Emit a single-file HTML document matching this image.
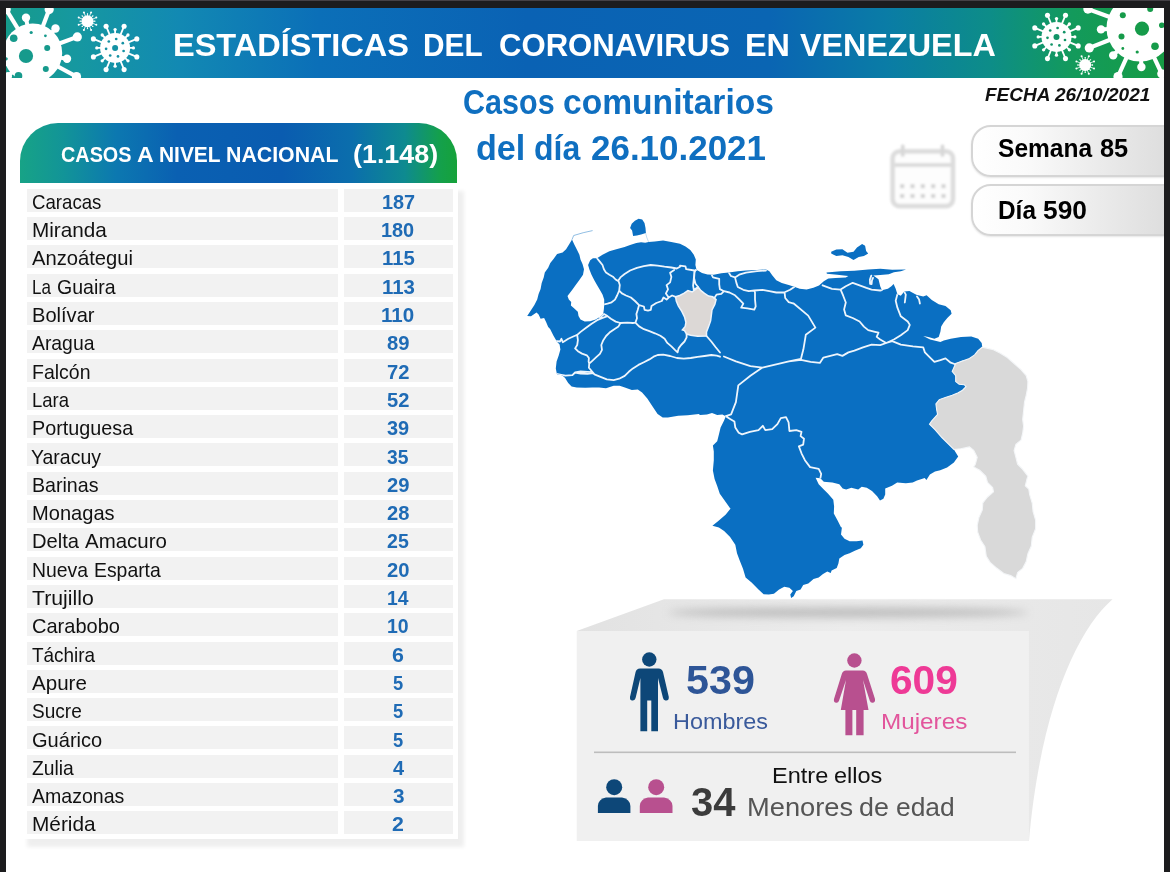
<!DOCTYPE html>
<html lang="es">
<head>
<meta charset="utf-8">
<title>Estadísticas del Coronavirus en Venezuela</title>
<style>
html,body{margin:0;padding:0;}
body{width:1170px;height:872px;overflow:hidden;background:#1c1c1e;font-family:"Liberation Sans", sans-serif;position:relative;}
#page{position:absolute;left:6px;top:8px;width:1158px;height:864px;background:#fff;overflow:hidden;}
#topline{position:absolute;left:0;top:0;width:1170px;height:1px;background:#444146;}
#abs{position:absolute;left:-6px;top:-8px;width:1170px;height:872px;}
#banner{position:absolute;left:6px;top:8px;width:1158px;height:70px;
 background:linear-gradient(90deg,#169b8b 0%,#1698a0 6%,#1289b3 15%,#0b6fb8 27%,#0a62b4 45%,#0a65b3 66%,#0a7ca6 76%,#0d8d88 85%,#139a5c 92%,#169c44 100%);}
svg.layer{position:absolute;left:0;top:0;width:1170px;height:872px;overflow:hidden;}
.tx{position:absolute;left:0;top:0;white-space:pre;}
.tx span{position:absolute;transform-origin:0 50%;white-space:pre;}
#thead{position:absolute;left:20px;top:123px;width:436.5px;height:60px;border-radius:38px 38px 0 0;
 background:linear-gradient(90deg,#17a386 0%,#129498 10%,#0c78b0 22%,#0a60b2 36%,#0a5cb0 60%,#0b6eac 76%,#0e8a90 88%,#14a04c 96%,#16a23a 100%);}
#tbody{position:absolute;left:21px;top:183px;width:437.4px;height:656.1px;background:#fff;box-shadow:6px 8px 4px rgba(0,0,0,.065);}
.row{position:absolute;left:26.5px;width:427px;height:23.0px;font-size:20.20px;line-height:20.20px;color:#111;}
.row .c1{position:absolute;left:0;top:0;width:311.5px;height:100%;background:#f2f2f2;}
.row .c2{position:absolute;left:317px;top:0;width:109.5px;height:100%;background:#f2f2f2;}
.row span{position:absolute;white-space:pre;transform-origin:0 50%;}
.row .vl{color:#1f6bb5;font-weight:700;}
.pill{position:absolute;left:971px;width:215px;height:52px;border:2.6px solid #d5d5d5;border-radius:20px;box-sizing:border-box;
 background:linear-gradient(90deg,#ffffff 0%,#fafafa 25%,#ebebeb 60%,#dadada 100%);box-shadow:0 1px 2px rgba(0,0,0,.10);}
</style>
</head>
<body>
<div id="topline"></div>
<div id="page"><div id="abs">
<div id="banner"></div>
<svg class="layer" viewBox="0 0 1170 872">
<defs>
<clipPath id="mapclip"><path d="M572.0,239.6 L574.3,244.4 L577.1,249.9 L579.4,254.7 L580.5,259.5 L582.6,264.3 L584.0,269.2 L583.0,274.7 L579.2,280.2 L575.7,285.0 L572.3,289.8 L567.5,296.0 L568.8,299.4 L571.2,301.9 L570.9,305.6 L574.3,308.4 L577.8,311.8 L578.5,315.9 L580.5,319.4 L584.7,321.4 L590.2,321.2 L595.7,319.4 L600.5,316.6 L603.2,313.9 L603.9,309.1 L604.2,304.9 L604.2,299.4 L602.5,294.6 L599.8,289.8 L597.0,285.0 L594.3,280.2 L591.5,274.7 L589.5,269.8 L588.1,265.0 L590.2,260.2 L592.9,258.2 L597.0,258.2 L602.5,254.7 L609.4,251.3 L616.3,249.2 L624.6,246.9 L630.1,245.1 L636.3,243.0 L641.1,242.3 L645.2,242.7 L648.6,241.9 L654.8,241.4 L663.1,240.5 L671.3,241.9 L680.0,243.7 L685.5,246.5 L690.3,249.9 L693.8,254.7 L695.8,259.5 L695.4,265.0 L696.5,269.8 L702.0,273.0 L707.5,274.4 L713.7,274.7 L721.3,273.3 L728.8,272.6 L737.8,271.2 L746.0,270.5 L757.0,270.1 L766.0,269.4 L769.4,271.2 L772.2,275.3 L776.3,280.2 L781.8,282.9 L788.7,285.0 L794.2,286.8 L799.7,288.7 L806.6,289.5 L813.4,287.7 L819.0,285.4 L823.8,281.3 L827.9,278.8 L828.6,278.5 L835.5,278.0 L845.8,277.6 L848.4,275.9 L837.2,274.7 L826.9,273.7 L826.5,272.5 L840.6,271.2 L854.4,270.7 L868.2,269.5 L880.2,268.8 L892.2,269.7 L906.0,269.5 L900.8,271.2 L893.9,272.3 L888.8,274.3 L880.2,275.0 L873.3,275.4 L878.5,279.3 L880.2,286.2 L881.9,290.2 L887.9,288.8 L891.4,286.2 L893.6,284.0 L895.7,288.8 L897.4,294.3 L900.8,295.7 L904.3,291.4 L909.4,290.9 L916.3,294.8 L923.2,296.5 L926.6,295.3 L931.8,300.0 L938.7,304.3 L945.5,306.0 L950.7,310.3 L951.6,313.7 L947.3,318.0 L943.8,322.3 L941.2,326.6 L940.4,331.8 L938.7,336.9 L934.4,338.7 L928.3,336.9 L923.2,336.1 L930.1,339.5 L940.4,342.1 L943.8,340.4 L950.7,338.7 L961.0,336.9 L971.3,336.6 L978.2,338.7 L981.7,343.0 L982.3,347.2 L978.0,350.6 L974.6,354.9 L969.4,358.4 L962.5,361.0 L955.7,363.5 L952.2,371.3 L955.7,375.6 L955.7,381.6 L959.1,384.2 L964.3,384.7 L966.0,386.7 L962.5,390.2 L958.2,392.8 L952.2,395.3 L945.3,397.4 L939.3,399.6 L935.9,403.9 L936.7,410.0 L937.6,414.3 L931.6,421.1 L929.5,424.2 L935.0,429.7 L941.9,437.5 L948.8,444.4 L953.9,449.5 L958.2,456.4 L953.9,462.4 L947.1,467.6 L940.2,470.2 L935.0,471.4 L929.9,474.5 L926.4,480.0 L924.7,478.1 L917.0,480.6 L912.7,482.4 L905.8,483.2 L897.2,482.4 L892.0,485.8 L885.2,488.4 L885.2,494.4 L883.4,498.7 L880.0,500.4 L877.1,496.3 L872.0,491.1 L866.8,487.7 L861.7,486.8 L858.2,489.4 L851.3,487.7 L846.2,489.4 L842.7,488.6 L839.3,484.3 L832.4,482.5 L823.8,481.7 L820.4,478.2 L815.6,477.7 L818.7,484.3 L823.8,489.4 L828.1,493.7 L833.3,499.7 L834.1,506.6 L833.8,513.5 L837.6,520.4 L841.0,527.3 L841.9,527.5 L841.0,534.4 L844.5,538.7 L849.6,541.3 L856.5,541.3 L862.5,540.4 L863.4,544.7 L860.8,548.2 L854.8,550.7 L849.6,553.3 L844.5,555.0 L839.3,558.5 L838.4,563.6 L836.7,567.9 L831.6,570.5 L830.7,573.1 L827.3,571.4 L823.0,573.9 L818.7,577.4 L813.5,579.1 L808.3,583.4 L803.2,585.1 L800.6,589.4 L796.3,591.1 L793.7,596.3 L791.1,598.0 L790.3,594.6 L792.9,591.1 L789.4,587.7 L784.3,586.8 L779.1,589.4 L773.9,593.7 L768.8,594.6 L763.6,594.2 L758.5,589.4 L751.6,582.5 L745.6,577.4 L743.0,568.8 L739.6,560.2 L737.0,553.3 L735.3,544.7 L730.1,537.0 L724.1,531.0 L718.9,527.5 L712.4,525.8 L718.9,520.6 L725.8,514.6 L730.6,508.6 L730.1,508.3 L724.1,499.7 L719.8,493.7 L717.2,486.0 L714.6,479.1 L712.9,470.5 L713.8,460.2 L713.8,451.6 L712.9,445.6 L717.2,441.3 L718.9,434.4 L720.6,427.5 L724.1,420.6 L725.8,416.3 L722.4,414.6 L717.2,415.1 L712.0,413.1 L706.9,414.4 L700.0,415.1 L698.8,414.0 L687.7,415.2 L678.2,415.8 L667.9,417.5 L662.7,417.5 L657.6,414.0 L652.4,406.3 L647.3,398.6 L642.1,392.5 L637.8,389.4 L631.8,390.0 L624.9,387.4 L619.7,385.7 L613.7,385.7 L606.0,388.2 L599.1,387.4 L592.2,387.4 L585.3,387.7 L576.7,387.4 L571.6,386.5 L568.2,383.1 L565.1,377.9 L562.1,375.3 L557.0,374.5 L555.8,368.5 L556.6,361.6 L558.7,355.6 L560.4,349.6 L559.6,344.4 L557.0,341.8 L553.5,335.8 L550.1,328.9 L548.2,326.9 L546.1,322.1 L544.1,318.0 L540.6,318.7 L538.6,314.6 L536.5,312.5 L531.0,316.2 L527.2,315.9 L534.4,304.9 L537.2,299.4 L538.6,293.9 L540.6,289.1 L541.7,282.9 L543.7,277.4 L544.8,272.6 L548.2,267.8 L550.3,263.0 L553.7,258.8 L557.1,254.0 L562.6,252.6 L566.1,249.2 L569.5,243.7 L571.6,240.3Z"/></clipPath>
<clipPath id="bclip"><rect x="6" y="8" width="1158" height="70"/></clipPath>
<filter id="blur2" x="-20%" y="-20%" width="140%" height="140%"><feGaussianBlur stdDeviation="1.3"/></filter>
<filter id="blur5" x="-20%" y="-100%" width="140%" height="300%"><feGaussianBlur stdDeviation="4"/></filter>
<linearGradient id="topg" x1="0" x2="1" y1="0" y2="0"><stop offset="0" stop-color="#e2e2e2"/><stop offset=".5" stop-color="#ececec"/><stop offset="1" stop-color="#e6e6e6"/></linearGradient>
</defs>
<g clip-path="url(#bclip)">
<g fill="#fff" stroke="#fff">
<line x1="18.4" y1="29.5" x2="6.2" y2="9.6" stroke-width="4.2"/>
<circle cx="6.2" cy="9.6" r="4.6" stroke="none"/>
<line x1="27.5" y1="26.0" x2="26.0" y2="17.8" stroke-width="4"/>
<circle cx="26.0" cy="17.8" r="4.2" stroke="none"/>
<line x1="42.5" y1="27.3" x2="49.2" y2="9.6" stroke-width="4.2"/>
<circle cx="49.2" cy="9.6" r="4.6" stroke="none"/>
<line x1="51.5" y1="32.9" x2="55.5" y2="28.5" stroke-width="4"/>
<circle cx="55.5" cy="28.5" r="4.2" stroke="none"/>
<line x1="58.6" y1="43.7" x2="77.3" y2="36.9" stroke-width="4.2"/>
<circle cx="77.3" cy="36.9" r="4.6" stroke="none"/>
<line x1="59.8" y1="57.6" x2="67.0" y2="58.8" stroke-width="4"/>
<circle cx="67.0" cy="58.8" r="4.2" stroke="none"/>
<line x1="56.9" y1="66.0" x2="76.5" y2="76.6" stroke-width="4.2"/>
<circle cx="76.5" cy="76.6" r="4.6" stroke="none"/>
<line x1="46.5" y1="76.8" x2="50.2" y2="83.3" stroke-width="4"/>
<circle cx="50.2" cy="83.3" r="4.2" stroke="none"/>
<line x1="12.6" y1="71.8" x2="7.8" y2="76.2" stroke-width="4"/>
<circle cx="7.8" cy="76.2" r="4.2" stroke="none"/>
<line x1="6.9" y1="62.4" x2="1.7" y2="64.3" stroke-width="4"/>
<circle cx="1.7" cy="64.3" r="4.2" stroke="none"/>
<circle cx="32.7" cy="53" r="29.5" stroke="none"/>
</g>
<g fill="#169a8c">
<circle cx="26" cy="56" r="7.1"/>
<circle cx="13.7" cy="38.3" r="3.8"/>
<circle cx="47.2" cy="48.1" r="3.0"/>
<circle cx="45.8" cy="69" r="3.0"/>
<circle cx="31.2" cy="32.5" r="1.6"/>
<circle cx="45.4" cy="35.8" r="1.4"/>
<circle cx="18.5" cy="75.9" r="3.8"/>
<circle cx="6.2" cy="58.8" r="1.6"/>
</g>
<g fill="#fff" stroke="#fff">
<line x1="1108.5" y1="29.1" x2="1101.0" y2="29.4" stroke-width="4"/>
<circle cx="1101.0" cy="29.4" r="4.2" stroke="none"/>
<line x1="1110.7" y1="39.5" x2="1089.3" y2="47.9" stroke-width="4.2"/>
<circle cx="1089.3" cy="47.9" r="4.6" stroke="none"/>
<line x1="1118.0" y1="50.5" x2="1113.2" y2="55.4" stroke-width="4"/>
<circle cx="1113.2" cy="55.4" r="4.2" stroke="none"/>
<line x1="1127.0" y1="56.7" x2="1118.0" y2="76.5" stroke-width="4.2"/>
<circle cx="1118.0" cy="76.5" r="4.6" stroke="none"/>
<line x1="1141.1" y1="59.5" x2="1141.4" y2="67.0" stroke-width="4"/>
<circle cx="1141.4" cy="67.0" r="4.2" stroke="none"/>
<line x1="1153.6" y1="56.4" x2="1161.8" y2="73.8" stroke-width="4.2"/>
<circle cx="1161.8" cy="73.8" r="4.6" stroke="none"/>
<line x1="1110.4" y1="17.2" x2="1087.9" y2="9.1" stroke-width="4.2"/>
<circle cx="1087.9" cy="9.1" r="4.6" stroke="none"/>
<line x1="1164.1" y1="48.2" x2="1169.1" y2="52.4" stroke-width="4"/>
<circle cx="1169.1" cy="52.4" r="4.2" stroke="none"/>
<circle cx="1140" cy="28" r="33.5" stroke="none"/>
</g>
<g fill="#169b4a">
<circle cx="1142" cy="28.7" r="7.1"/>
<circle cx="1122.8" cy="15.3" r="3.0"/>
<circle cx="1121.5" cy="36.6" r="3.0"/>
<circle cx="1155" cy="46.2" r="3.8"/>
<circle cx="1137.2" cy="52" r="1.6"/>
<circle cx="1122.8" cy="48.5" r="1.4"/>
<circle cx="1161.8" cy="25.3" r="2.8"/>
<circle cx="1150.2" cy="8.9" r="3.0"/>
</g>
<g fill="#fff" stroke="#fff" stroke-linecap="round">
<line x1="115.1" y1="47.9" x2="136.8" y2="56.9" stroke-width="1.80"/>
<circle cx="136.8" cy="56.9" r="2.55" stroke="none"/>
<line x1="115.1" y1="47.9" x2="133.4" y2="47.9" stroke-width="1.80"/>
<circle cx="133.4" cy="47.9" r="1.65" stroke="none"/>
<line x1="115.1" y1="47.9" x2="124.1" y2="69.6" stroke-width="1.80"/>
<circle cx="124.1" cy="69.6" r="2.55" stroke="none"/>
<line x1="115.1" y1="47.9" x2="128.0" y2="60.8" stroke-width="1.80"/>
<circle cx="128.0" cy="60.8" r="1.65" stroke="none"/>
<line x1="115.1" y1="47.9" x2="106.1" y2="69.6" stroke-width="1.80"/>
<circle cx="106.1" cy="69.6" r="2.55" stroke="none"/>
<line x1="115.1" y1="47.9" x2="115.1" y2="66.2" stroke-width="1.80"/>
<circle cx="115.1" cy="66.2" r="1.65" stroke="none"/>
<line x1="115.1" y1="47.9" x2="93.4" y2="56.9" stroke-width="1.80"/>
<circle cx="93.4" cy="56.9" r="2.55" stroke="none"/>
<line x1="115.1" y1="47.9" x2="102.2" y2="60.8" stroke-width="1.80"/>
<circle cx="102.2" cy="60.8" r="1.65" stroke="none"/>
<line x1="115.1" y1="47.9" x2="93.4" y2="38.9" stroke-width="1.80"/>
<circle cx="93.4" cy="38.9" r="2.55" stroke="none"/>
<line x1="115.1" y1="47.9" x2="96.8" y2="47.9" stroke-width="1.80"/>
<circle cx="96.8" cy="47.9" r="1.65" stroke="none"/>
<line x1="115.1" y1="47.9" x2="106.1" y2="26.2" stroke-width="1.80"/>
<circle cx="106.1" cy="26.2" r="2.55" stroke="none"/>
<line x1="115.1" y1="47.9" x2="102.2" y2="35.0" stroke-width="1.80"/>
<circle cx="102.2" cy="35.0" r="1.65" stroke="none"/>
<line x1="115.1" y1="47.9" x2="124.1" y2="26.2" stroke-width="1.80"/>
<circle cx="124.1" cy="26.2" r="2.55" stroke="none"/>
<line x1="115.1" y1="47.9" x2="115.1" y2="29.6" stroke-width="1.80"/>
<circle cx="115.1" cy="29.6" r="1.65" stroke="none"/>
<line x1="115.1" y1="47.9" x2="136.8" y2="38.9" stroke-width="1.80"/>
<circle cx="136.8" cy="38.9" r="2.55" stroke="none"/>
<line x1="115.1" y1="47.9" x2="128.0" y2="35.0" stroke-width="1.80"/>
<circle cx="128.0" cy="35.0" r="1.65" stroke="none"/>
<circle cx="115.1" cy="47.9" r="15" stroke="none"/>
</g>
<g fill="#1491a3">
<circle cx="115.1" cy="47.9" r="3.00"/>
<circle cx="123.6" cy="51.0" r="1.35"/>
<circle cx="118.0" cy="56.4" r="1.35"/>
<circle cx="110.2" cy="55.5" r="1.35"/>
<circle cx="106.1" cy="48.8" r="1.35"/>
<circle cx="108.8" cy="41.5" r="1.35"/>
<circle cx="116.2" cy="39.0" r="1.35"/>
<circle cx="122.8" cy="43.2" r="1.35"/>
</g>
<g fill="#fff" stroke="#fff" stroke-linecap="round">
<line x1="87.5" y1="21.2" x2="96.3" y2="24.8" stroke-width="0.80"/>
<circle cx="96.3" cy="24.8" r="1.02" stroke="none"/>
<line x1="87.5" y1="21.2" x2="94.8" y2="21.2" stroke-width="0.80"/>
<circle cx="94.8" cy="21.2" r="0.66" stroke="none"/>
<line x1="87.5" y1="21.2" x2="91.1" y2="30.0" stroke-width="0.80"/>
<circle cx="91.1" cy="30.0" r="1.02" stroke="none"/>
<line x1="87.5" y1="21.2" x2="92.7" y2="26.4" stroke-width="0.80"/>
<circle cx="92.7" cy="26.4" r="0.66" stroke="none"/>
<line x1="87.5" y1="21.2" x2="83.9" y2="30.0" stroke-width="0.80"/>
<circle cx="83.9" cy="30.0" r="1.02" stroke="none"/>
<line x1="87.5" y1="21.2" x2="87.5" y2="28.5" stroke-width="0.80"/>
<circle cx="87.5" cy="28.5" r="0.66" stroke="none"/>
<line x1="87.5" y1="21.2" x2="78.7" y2="24.8" stroke-width="0.80"/>
<circle cx="78.7" cy="24.8" r="1.02" stroke="none"/>
<line x1="87.5" y1="21.2" x2="82.3" y2="26.4" stroke-width="0.80"/>
<circle cx="82.3" cy="26.4" r="0.66" stroke="none"/>
<line x1="87.5" y1="21.2" x2="78.7" y2="17.6" stroke-width="0.80"/>
<circle cx="78.7" cy="17.6" r="1.02" stroke="none"/>
<line x1="87.5" y1="21.2" x2="80.2" y2="21.2" stroke-width="0.80"/>
<circle cx="80.2" cy="21.2" r="0.66" stroke="none"/>
<line x1="87.5" y1="21.2" x2="83.9" y2="12.4" stroke-width="0.80"/>
<circle cx="83.9" cy="12.4" r="1.02" stroke="none"/>
<line x1="87.5" y1="21.2" x2="82.3" y2="16.0" stroke-width="0.80"/>
<circle cx="82.3" cy="16.0" r="0.66" stroke="none"/>
<line x1="87.5" y1="21.2" x2="91.1" y2="12.4" stroke-width="0.80"/>
<circle cx="91.1" cy="12.4" r="1.02" stroke="none"/>
<line x1="87.5" y1="21.2" x2="87.5" y2="13.9" stroke-width="0.80"/>
<circle cx="87.5" cy="13.9" r="0.66" stroke="none"/>
<line x1="87.5" y1="21.2" x2="96.3" y2="17.6" stroke-width="0.80"/>
<circle cx="96.3" cy="17.6" r="1.02" stroke="none"/>
<line x1="87.5" y1="21.2" x2="92.7" y2="16.0" stroke-width="0.80"/>
<circle cx="92.7" cy="16.0" r="0.66" stroke="none"/>
<circle cx="87.5" cy="21.2" r="6" stroke="none"/>
</g>
<g fill="#fff" stroke="#fff" stroke-linecap="round">
<line x1="1056.5" y1="36.9" x2="1078.2" y2="45.9" stroke-width="1.80"/>
<circle cx="1078.2" cy="45.9" r="2.55" stroke="none"/>
<line x1="1056.5" y1="36.9" x2="1074.8" y2="36.9" stroke-width="1.80"/>
<circle cx="1074.8" cy="36.9" r="1.65" stroke="none"/>
<line x1="1056.5" y1="36.9" x2="1065.5" y2="58.6" stroke-width="1.80"/>
<circle cx="1065.5" cy="58.6" r="2.55" stroke="none"/>
<line x1="1056.5" y1="36.9" x2="1069.4" y2="49.8" stroke-width="1.80"/>
<circle cx="1069.4" cy="49.8" r="1.65" stroke="none"/>
<line x1="1056.5" y1="36.9" x2="1047.5" y2="58.6" stroke-width="1.80"/>
<circle cx="1047.5" cy="58.6" r="2.55" stroke="none"/>
<line x1="1056.5" y1="36.9" x2="1056.5" y2="55.2" stroke-width="1.80"/>
<circle cx="1056.5" cy="55.2" r="1.65" stroke="none"/>
<line x1="1056.5" y1="36.9" x2="1034.8" y2="45.9" stroke-width="1.80"/>
<circle cx="1034.8" cy="45.9" r="2.55" stroke="none"/>
<line x1="1056.5" y1="36.9" x2="1043.6" y2="49.8" stroke-width="1.80"/>
<circle cx="1043.6" cy="49.8" r="1.65" stroke="none"/>
<line x1="1056.5" y1="36.9" x2="1034.8" y2="27.9" stroke-width="1.80"/>
<circle cx="1034.8" cy="27.9" r="2.55" stroke="none"/>
<line x1="1056.5" y1="36.9" x2="1038.2" y2="36.9" stroke-width="1.80"/>
<circle cx="1038.2" cy="36.9" r="1.65" stroke="none"/>
<line x1="1056.5" y1="36.9" x2="1047.5" y2="15.2" stroke-width="1.80"/>
<circle cx="1047.5" cy="15.2" r="2.55" stroke="none"/>
<line x1="1056.5" y1="36.9" x2="1043.6" y2="24.0" stroke-width="1.80"/>
<circle cx="1043.6" cy="24.0" r="1.65" stroke="none"/>
<line x1="1056.5" y1="36.9" x2="1065.5" y2="15.2" stroke-width="1.80"/>
<circle cx="1065.5" cy="15.2" r="2.55" stroke="none"/>
<line x1="1056.5" y1="36.9" x2="1056.5" y2="18.6" stroke-width="1.80"/>
<circle cx="1056.5" cy="18.6" r="1.65" stroke="none"/>
<line x1="1056.5" y1="36.9" x2="1078.2" y2="27.9" stroke-width="1.80"/>
<circle cx="1078.2" cy="27.9" r="2.55" stroke="none"/>
<line x1="1056.5" y1="36.9" x2="1069.4" y2="24.0" stroke-width="1.80"/>
<circle cx="1069.4" cy="24.0" r="1.65" stroke="none"/>
<circle cx="1056.5" cy="36.9" r="15" stroke="none"/>
</g>
<g fill="#129467">
<circle cx="1056.5" cy="36.9" r="3.00"/>
<circle cx="1065.0" cy="40.0" r="1.35"/>
<circle cx="1059.4" cy="45.4" r="1.35"/>
<circle cx="1051.6" cy="44.5" r="1.35"/>
<circle cx="1047.5" cy="37.8" r="1.35"/>
<circle cx="1050.2" cy="30.5" r="1.35"/>
<circle cx="1057.6" cy="28.0" r="1.35"/>
<circle cx="1064.2" cy="32.2" r="1.35"/>
</g>
<g fill="#fff" stroke="#fff" stroke-linecap="round">
<line x1="1085.2" y1="65" x2="1094.0" y2="68.6" stroke-width="0.80"/>
<circle cx="1094.0" cy="68.6" r="1.02" stroke="none"/>
<line x1="1085.2" y1="65" x2="1092.5" y2="65.0" stroke-width="0.80"/>
<circle cx="1092.5" cy="65.0" r="0.66" stroke="none"/>
<line x1="1085.2" y1="65" x2="1088.8" y2="73.8" stroke-width="0.80"/>
<circle cx="1088.8" cy="73.8" r="1.02" stroke="none"/>
<line x1="1085.2" y1="65" x2="1090.4" y2="70.2" stroke-width="0.80"/>
<circle cx="1090.4" cy="70.2" r="0.66" stroke="none"/>
<line x1="1085.2" y1="65" x2="1081.6" y2="73.8" stroke-width="0.80"/>
<circle cx="1081.6" cy="73.8" r="1.02" stroke="none"/>
<line x1="1085.2" y1="65" x2="1085.2" y2="72.3" stroke-width="0.80"/>
<circle cx="1085.2" cy="72.3" r="0.66" stroke="none"/>
<line x1="1085.2" y1="65" x2="1076.4" y2="68.6" stroke-width="0.80"/>
<circle cx="1076.4" cy="68.6" r="1.02" stroke="none"/>
<line x1="1085.2" y1="65" x2="1080.0" y2="70.2" stroke-width="0.80"/>
<circle cx="1080.0" cy="70.2" r="0.66" stroke="none"/>
<line x1="1085.2" y1="65" x2="1076.4" y2="61.4" stroke-width="0.80"/>
<circle cx="1076.4" cy="61.4" r="1.02" stroke="none"/>
<line x1="1085.2" y1="65" x2="1077.9" y2="65.0" stroke-width="0.80"/>
<circle cx="1077.9" cy="65.0" r="0.66" stroke="none"/>
<line x1="1085.2" y1="65" x2="1081.6" y2="56.2" stroke-width="0.80"/>
<circle cx="1081.6" cy="56.2" r="1.02" stroke="none"/>
<line x1="1085.2" y1="65" x2="1080.0" y2="59.8" stroke-width="0.80"/>
<circle cx="1080.0" cy="59.8" r="0.66" stroke="none"/>
<line x1="1085.2" y1="65" x2="1088.8" y2="56.2" stroke-width="0.80"/>
<circle cx="1088.8" cy="56.2" r="1.02" stroke="none"/>
<line x1="1085.2" y1="65" x2="1085.2" y2="57.7" stroke-width="0.80"/>
<circle cx="1085.2" cy="57.7" r="0.66" stroke="none"/>
<line x1="1085.2" y1="65" x2="1094.0" y2="61.4" stroke-width="0.80"/>
<circle cx="1094.0" cy="61.4" r="1.02" stroke="none"/>
<line x1="1085.2" y1="65" x2="1090.4" y2="59.8" stroke-width="0.80"/>
<circle cx="1090.4" cy="59.8" r="0.66" stroke="none"/>
<circle cx="1085.2" cy="65" r="6" stroke="none"/>
</g>
</g>
<!-- bottom 3D panel -->
<path d="M664,599.3 L1112.5,599.3 C1075,632 1040,715 1029,841 L1028.3,841 L1028.3,631 L576.7,631 Z" fill="url(#topg)"/>
<ellipse cx="848" cy="612.5" rx="180" ry="5.2" fill="#a8a8a8" opacity=".68" filter="url(#blur5)"/>
<rect x="576.7" y="631" width="451.6" height="210" fill="#f0f0f0"/>
<rect x="594" y="751.5" width="422" height="1.6" fill="#bdbdbd"/>
<!-- map -->

<path d="M982.3,347.2 L986.6,348.1 L993.5,349.8 L1000.4,353.2 L1007.3,357.5 L1014.1,363.5 L1021.0,369.6 L1026.2,375.6 L1027.9,381.6 L1027.5,388.5 L1026.2,395.3 L1024.5,402.2 L1023.6,410.8 L1022.7,419.4 L1023.6,426.3 L1022.7,433.2 L1021.0,440.1 L1015.9,444.4 L1014.1,450.4 L1015.9,457.3 L1017.6,464.1 L1022.7,469.3 L1027.9,476.2 L1027.0,478.9 L1025.3,485.8 L1028.8,489.2 L1029.6,494.4 L1032.2,503.0 L1033.1,511.6 L1035.6,520.2 L1035.6,528.8 L1032.2,537.4 L1031.3,546.0 L1027.9,553.7 L1026.2,561.5 L1022.7,568.3 L1017.6,572.6 L1015.9,578.7 L1010.7,575.6 L1003.8,573.5 L996.9,568.3 L990.1,562.3 L986.3,556.3 L984.9,546.8 L980.6,540.0 L977.7,532.2 L977.2,525.3 L978.9,517.6 L982.3,509.9 L982.8,503.0 L987.5,497.0 L993.5,491.8 L992.6,487.5 L987.5,482.4 L985.8,476.3 L979.7,470.3 L973.7,466.9 L975.4,464.1 L977.2,457.3 L973.7,450.4 L969.4,446.9 L960.8,448.7 L953.9,449.5 L948.8,444.4 L941.9,437.5 L935.0,429.7 L929.5,424.2 L931.6,421.1 L937.6,414.3 L936.7,410.0 L935.9,403.9 L939.3,399.6 L945.3,397.4 L952.2,395.3 L958.2,392.8 L962.5,390.2 L966.0,386.7 L964.3,384.7 L959.1,384.2 L955.7,381.6 L955.7,375.6 L952.2,371.3 L955.7,363.5 L962.5,361.0 L969.4,358.4 L974.6,354.9 L978.0,350.6Z" fill="#d9d9d9"/>
<path d="M572.0,239.6 L574.3,244.4 L577.1,249.9 L579.4,254.7 L580.5,259.5 L582.6,264.3 L584.0,269.2 L583.0,274.7 L579.2,280.2 L575.7,285.0 L572.3,289.8 L567.5,296.0 L568.8,299.4 L571.2,301.9 L570.9,305.6 L574.3,308.4 L577.8,311.8 L578.5,315.9 L580.5,319.4 L584.7,321.4 L590.2,321.2 L595.7,319.4 L600.5,316.6 L603.2,313.9 L603.9,309.1 L604.2,304.9 L604.2,299.4 L602.5,294.6 L599.8,289.8 L597.0,285.0 L594.3,280.2 L591.5,274.7 L589.5,269.8 L588.1,265.0 L590.2,260.2 L592.9,258.2 L597.0,258.2 L602.5,254.7 L609.4,251.3 L616.3,249.2 L624.6,246.9 L630.1,245.1 L636.3,243.0 L641.1,242.3 L645.2,242.7 L648.6,241.9 L654.8,241.4 L663.1,240.5 L671.3,241.9 L680.0,243.7 L685.5,246.5 L690.3,249.9 L693.8,254.7 L695.8,259.5 L695.4,265.0 L696.5,269.8 L702.0,273.0 L707.5,274.4 L713.7,274.7 L721.3,273.3 L728.8,272.6 L737.8,271.2 L746.0,270.5 L757.0,270.1 L766.0,269.4 L769.4,271.2 L772.2,275.3 L776.3,280.2 L781.8,282.9 L788.7,285.0 L794.2,286.8 L799.7,288.7 L806.6,289.5 L813.4,287.7 L819.0,285.4 L823.8,281.3 L827.9,278.8 L828.6,278.5 L835.5,278.0 L845.8,277.6 L848.4,275.9 L837.2,274.7 L826.9,273.7 L826.5,272.5 L840.6,271.2 L854.4,270.7 L868.2,269.5 L880.2,268.8 L892.2,269.7 L906.0,269.5 L900.8,271.2 L893.9,272.3 L888.8,274.3 L880.2,275.0 L873.3,275.4 L878.5,279.3 L880.2,286.2 L881.9,290.2 L887.9,288.8 L891.4,286.2 L893.6,284.0 L895.7,288.8 L897.4,294.3 L900.8,295.7 L904.3,291.4 L909.4,290.9 L916.3,294.8 L923.2,296.5 L926.6,295.3 L931.8,300.0 L938.7,304.3 L945.5,306.0 L950.7,310.3 L951.6,313.7 L947.3,318.0 L943.8,322.3 L941.2,326.6 L940.4,331.8 L938.7,336.9 L934.4,338.7 L928.3,336.9 L923.2,336.1 L930.1,339.5 L940.4,342.1 L943.8,340.4 L950.7,338.7 L961.0,336.9 L971.3,336.6 L978.2,338.7 L981.7,343.0 L982.3,347.2 L978.0,350.6 L974.6,354.9 L969.4,358.4 L962.5,361.0 L955.7,363.5 L952.2,371.3 L955.7,375.6 L955.7,381.6 L959.1,384.2 L964.3,384.7 L966.0,386.7 L962.5,390.2 L958.2,392.8 L952.2,395.3 L945.3,397.4 L939.3,399.6 L935.9,403.9 L936.7,410.0 L937.6,414.3 L931.6,421.1 L929.5,424.2 L935.0,429.7 L941.9,437.5 L948.8,444.4 L953.9,449.5 L958.2,456.4 L953.9,462.4 L947.1,467.6 L940.2,470.2 L935.0,471.4 L929.9,474.5 L926.4,480.0 L924.7,478.1 L917.0,480.6 L912.7,482.4 L905.8,483.2 L897.2,482.4 L892.0,485.8 L885.2,488.4 L885.2,494.4 L883.4,498.7 L880.0,500.4 L877.1,496.3 L872.0,491.1 L866.8,487.7 L861.7,486.8 L858.2,489.4 L851.3,487.7 L846.2,489.4 L842.7,488.6 L839.3,484.3 L832.4,482.5 L823.8,481.7 L820.4,478.2 L815.6,477.7 L818.7,484.3 L823.8,489.4 L828.1,493.7 L833.3,499.7 L834.1,506.6 L833.8,513.5 L837.6,520.4 L841.0,527.3 L841.9,527.5 L841.0,534.4 L844.5,538.7 L849.6,541.3 L856.5,541.3 L862.5,540.4 L863.4,544.7 L860.8,548.2 L854.8,550.7 L849.6,553.3 L844.5,555.0 L839.3,558.5 L838.4,563.6 L836.7,567.9 L831.6,570.5 L830.7,573.1 L827.3,571.4 L823.0,573.9 L818.7,577.4 L813.5,579.1 L808.3,583.4 L803.2,585.1 L800.6,589.4 L796.3,591.1 L793.7,596.3 L791.1,598.0 L790.3,594.6 L792.9,591.1 L789.4,587.7 L784.3,586.8 L779.1,589.4 L773.9,593.7 L768.8,594.6 L763.6,594.2 L758.5,589.4 L751.6,582.5 L745.6,577.4 L743.0,568.8 L739.6,560.2 L737.0,553.3 L735.3,544.7 L730.1,537.0 L724.1,531.0 L718.9,527.5 L712.4,525.8 L718.9,520.6 L725.8,514.6 L730.6,508.6 L730.1,508.3 L724.1,499.7 L719.8,493.7 L717.2,486.0 L714.6,479.1 L712.9,470.5 L713.8,460.2 L713.8,451.6 L712.9,445.6 L717.2,441.3 L718.9,434.4 L720.6,427.5 L724.1,420.6 L725.8,416.3 L722.4,414.6 L717.2,415.1 L712.0,413.1 L706.9,414.4 L700.0,415.1 L698.8,414.0 L687.7,415.2 L678.2,415.8 L667.9,417.5 L662.7,417.5 L657.6,414.0 L652.4,406.3 L647.3,398.6 L642.1,392.5 L637.8,389.4 L631.8,390.0 L624.9,387.4 L619.7,385.7 L613.7,385.7 L606.0,388.2 L599.1,387.4 L592.2,387.4 L585.3,387.7 L576.7,387.4 L571.6,386.5 L568.2,383.1 L565.1,377.9 L562.1,375.3 L557.0,374.5 L555.8,368.5 L556.6,361.6 L558.7,355.6 L560.4,349.6 L559.6,344.4 L557.0,341.8 L553.5,335.8 L550.1,328.9 L548.2,326.9 L546.1,322.1 L544.1,318.0 L540.6,318.7 L538.6,314.6 L536.5,312.5 L531.0,316.2 L527.2,315.9 L534.4,304.9 L537.2,299.4 L538.6,293.9 L540.6,289.1 L541.7,282.9 L543.7,277.4 L544.8,272.6 L548.2,267.8 L550.3,263.0 L553.7,258.8 L557.1,254.0 L562.6,252.6 L566.1,249.2 L569.5,243.7 L571.6,240.3Z" fill="#0a6fc2"/>
<path d="M633.1,236.1 L632.1,230.6 L630.1,227.9 L631.7,223.8 L634.9,220.7 L638.6,218.7 L642.2,219.6 L644.5,223.1 L645.5,227.9 L645.9,233.1 L641.1,234.5 L636.9,235.5Z" fill="#0a6fc2"/>
<path d="M831.2,251.8 L836.3,249.6 L842.4,249.2 L847.5,252.7 L853.5,251.8 L857.0,247.5 L862.1,244.1 L865.1,245.8 L866.1,251.0 L868.2,253.5 L863.9,256.1 L858.7,257.0 L853.5,259.9 L848.4,257.0 L842.4,255.3 L836.3,256.1 L831.2,253.5Z" fill="#0a6fc2"/>
<path d="M982.3,347.2 L986.6,348.1 L993.5,349.8 L1000.4,353.2 L1007.3,357.5 L1014.1,363.5 L1021.0,369.6 L1026.2,375.6 L1027.9,381.6 L1027.5,388.5 L1026.2,395.3 L1024.5,402.2 L1023.6,410.8 L1022.7,419.4 L1023.6,426.3 L1022.7,433.2 L1021.0,440.1 L1015.9,444.4 L1014.1,450.4 L1015.9,457.3 L1017.6,464.1 L1022.7,469.3 L1027.9,476.2 L1027.0,478.9 L1025.3,485.8 L1028.8,489.2 L1029.6,494.4 L1032.2,503.0 L1033.1,511.6 L1035.6,520.2 L1035.6,528.8 L1032.2,537.4 L1031.3,546.0 L1027.9,553.7 L1026.2,561.5 L1022.7,568.3 L1017.6,572.6 L1015.9,578.7 L1010.7,575.6 L1003.8,573.5 L996.9,568.3 L990.1,562.3 L986.3,556.3 L984.9,546.8 L980.6,540.0 L977.7,532.2 L977.2,525.3 L978.9,517.6 L982.3,509.9 L982.8,503.0 L987.5,497.0 L993.5,491.8 L992.6,487.5 L987.5,482.4 L985.8,476.3 L979.7,470.3 L973.7,466.9 L975.4,464.1 L977.2,457.3 L973.7,450.4 L969.4,446.9 L960.8,448.7 L953.9,449.5 L948.8,444.4 L941.9,437.5 L935.0,429.7 L929.5,424.2 L931.6,421.1 L937.6,414.3 L936.7,410.0 L935.9,403.9 L939.3,399.6 L945.3,397.4 L952.2,395.3 L958.2,392.8 L962.5,390.2 L966.0,386.7 L964.3,384.7 L959.1,384.2 L955.7,381.6 L955.7,375.6 L952.2,371.3 L955.7,363.5 L962.5,361.0 L969.4,358.4 L974.6,354.9 L978.0,350.6Z" fill="none" stroke="#f4f6f8" stroke-width="1.1"/>
<path d="M572.0,239.6 L573.7,235.5 L583.3,232.7 L592.6,230.6" fill="none" stroke="#0a6fc2" stroke-width="1" opacity=".45"/>
<path d="M645.6,233.1 L646.8,237.5 L648.6,241.9" fill="none" stroke="#0a6fc2" stroke-width="0.8" opacity=".3"/>
<path d="M675.6,296.8 L679.7,295.5 L683.8,293.4 L687.9,290.6 L692.1,292.0 L695.5,289.3 L698.3,287.2 L701.0,290.6 L704.5,293.4 L708.6,296.1 L712.7,296.8 L716.1,299.6 L714.8,304.4 L712.0,309.9 L711.3,315.4 L710.6,320.9 L708.6,326.4 L706.5,331.9 L706.5,336.0 L697.6,336.3 L690.7,335.3 L686.6,334.0 L684.5,330.5 L682.4,329.8 L685.2,326.4 L685.9,322.3 L684.5,316.8 L681.8,311.3 L678.3,305.8 L676.3,301.0Z" fill="#dcd8d6" stroke="#eef4fb" stroke-width="1.5"/>
<path clip-path="url(#mapclip)" d="M554.5,340.9 L560.0,341.5 L561.4,338.8 L562.8,342.2 L568.3,338.8 L574.4,336.0 L577.2,334.9 L580.6,331.9 L586.1,327.8 L591.6,323.7 L597.1,320.2 L602.6,317.9 L607.5,316.1 M599.9,317.5 L604.0,314.0 L607.5,316.1 L610.9,318.8 L615.7,321.6 L620.5,323.0 L627.4,322.6 L632.9,323.0 L635.4,322.6 M635.4,322.6 L639.1,326.4 L643.9,329.2 L649.4,331.2 L654.9,333.3 L660.4,335.8 L664.6,338.8 L667.3,342.9 L671.4,346.4 L674.9,349.8 L677.6,352.3 L678.6,348.4 L681.1,345.0 L684.5,341.5 L686.6,337.4 L686.6,334.0 M635.4,322.6 L637.0,318.2 L636.4,314.0 L637.7,309.9 L639.1,305.1 L635.0,301.0 L630.9,297.5 L626.0,295.5 L621.9,293.4 L619.2,290.6 L619.8,285.1 L618.5,281.0 M619.2,290.6 L617.1,295.5 L615.0,299.6 L611.6,302.3 L607.5,303.7 L604.3,304.4 M639.1,305.1 L643.9,306.5 L644.6,309.9 L648.0,310.6 L650.8,309.9 L651.5,306.0 L656.3,303.0 L661.8,301.0 L663.5,297.5 L666.6,299.6 L668.7,297.5 L665.9,293.4 L668.0,289.3 L666.6,285.1 L670.1,282.4 L671.4,276.9 L670.1,272.8 L674.2,270.0 M668.7,297.5 L672.1,295.5 L675.6,296.8 M620.5,323.0 L618.5,326.4 L614.3,329.2 L609.5,332.6 L606.1,336.0 L603.3,340.2 L601.3,345.0 L602.0,349.8 L599.9,353.9 L596.0,357.4 L592.3,360.8 L589.2,363.6 M577.2,334.9 L577.9,340.2 L577.2,345.0 L575.1,348.4 L577.9,351.2 L582.0,353.6 L586.8,355.3 L588.9,358.0 L588.6,361.5 L589.2,363.6 L588.9,367.7 L592.3,371.8 L594.4,374.3 M549.7,372.5 L554.5,373.5 L560.0,374.6 L565.5,375.7 L572.4,375.2 L575.1,372.5 L580.6,371.5 L587.5,371.8 L592.3,372.1 L594.4,374.3 L599.9,376.6 L606.8,379.4 L613.7,380.1 L619.2,378.7 L624.7,375.9 L628.8,371.8 L632.9,368.4 L638.4,364.9 L643.9,362.2 L649.4,359.4 L653.6,356.7 L657.7,355.0 L663.2,354.6 L670.1,356.0 L676.9,358.0 L683.8,358.7 L690.7,358.0 L697.6,356.9 L704.5,356.0 L711.3,355.0 L716.8,355.6 L720.0,356.7 M575.1,372.5 L580.6,373.5 L587.5,373.9 L593.0,373.2 M706.5,336.0 L711.3,341.5 L715.5,347.0 L720.0,352.5 M698.3,287.2 L695.5,283.8 L694.1,278.3 L694.5,272.8 L695.5,270.0 M597.0,258.2 L599.8,261.6 L602.5,265.0 L603.9,269.2 L606.0,272.6 L609.4,274.7 L612.9,276.7 L615.6,279.5 L618.0,280.9 M618.0,280.9 L620.4,277.4 L624.6,274.0 L630.1,270.5 L636.9,267.8 L643.8,266.1 L650.7,265.0 L657.6,265.7 L664.5,266.7 L671.3,267.5 L676.8,268.5 L680.0,266.7 M680.0,265.7 L685.5,266.4 L686.2,269.2 L694.4,270.5 L696.5,269.8 M694.4,270.5 L693.8,278.8 L693.1,285.7 L693.8,289.8 L697.9,287.3 M711.6,274.7 L713.0,277.4 L719.2,278.8 L719.2,284.3 L719.9,289.1 L724.0,291.2 L721.3,293.9 L716.5,294.6 L714.4,298.0 M724.0,291.2 L729.5,292.5 L735.0,295.3 L739.2,299.4 L743.3,303.6 L741.2,307.7 L747.4,308.4 L754.3,309.7 L755.7,306.3 L755.0,299.4 L755.0,292.5 L754.3,290.5 M728.8,272.6 L730.9,276.0 L735.0,277.4 L736.4,282.9 L737.8,287.0 L743.3,289.8 L748.8,291.2 L754.3,290.5 L762.5,289.8 L769.4,291.2 L776.3,292.5 L784.6,292.3 L790.1,289.8 L794.2,287.0 M735.0,277.4 L739.2,274.7 L746.0,272.6 L757.0,271.2 L766.0,270.5 M784.6,292.3 L785.2,298.0 L788.7,302.2 L793.8,303.6 M822.6,285.3 L832.0,288.8 L840.6,289.6 L845.8,286.2 L852.7,282.8 L859.6,285.3 L866.4,287.9 L871.6,289.6 L880.2,290.5 L881.9,290.2 M840.6,289.6 L843.2,295.7 L845.8,302.5 L844.1,309.4 L845.8,315.4 L852.7,318.0 L859.6,321.5 L863.9,326.6 L868.2,330.1 L875.0,331.8 L878.5,332.6 L876.7,336.9 L880.2,339.5 L886.2,343.0 M897.4,294.3 L895.7,300.8 L897.4,307.7 L900.8,316.3 L907.7,321.5 L909.8,324.9 L907.7,330.1 L900.8,335.2 L893.9,339.5 L886.2,343.0 M820.0,362.7 L823.4,357.6 L830.3,355.9 L837.2,354.1 L842.4,355.9 L848.4,352.4 L854.4,350.7 L863.0,347.3 L871.6,344.7 L880.2,345.2 L886.2,343.0 L892.2,341.2 L900.8,344.7 L912.9,346.4 L923.2,347.3 L924.9,352.4 L930.1,357.6 L934.4,361.9 L940.4,360.2 L945.5,358.4 L950.7,362.7 L955.9,364.5 L962.7,361.4 M871.3,275.6 L869.9,279.6 L870.1,283.9 L871.6,284.1 L871.9,280.8 L873.0,277.9 M903.8,290.8 L905.8,294.7 L904.8,302.5 M917.0,296.5 L919.1,299.6 L919.9,303.5 M762.4,367.6 L788.9,361.3 L800.9,359.9 L810.6,361.8 L820.0,362.8 M762.4,367.6 L750.4,375.8 L738.3,385.4 L735.9,402.2 L731.1,414.3 L725.8,416.2 M723.9,356.5 L735.9,361.3 L750.4,366.1 L762.4,367.6 M793.7,303.5 L808.2,315.6 L815.4,327.6 L805.8,334.8 L803.4,349.3 L800.9,358.9 L788.9,361.3 M725.8,416.3 L730.1,418.9 L734.4,421.5 L735.3,427.5 L738.7,432.7 L742.1,434.4 L749.9,431.8 L758.5,430.1 L762.8,425.8 L765.3,430.1 L772.2,429.2 L777.4,424.1 L780.8,418.1 L786.0,417.2 L788.6,422.4 L789.4,431.0 L796.3,430.1 L801.5,431.8 L800.6,436.1 L804.0,438.7 L803.2,444.7 L798.9,446.4 L801.5,453.3 L804.9,460.2 L810.1,467.1 L818.7,468.8 L821.2,473.9 L820.4,478.2" fill="none" stroke="#eef5fc" stroke-width="1.8" stroke-linejoin="round" stroke-linecap="round"/>
<!-- calendar icon -->
<g filter="url(#blur2)">
<rect x="892.6" y="151.4" width="60.4" height="54.7" rx="7" fill="#fdfdfd" stroke="#dddddd" stroke-width="4.6"/>
<rect x="892" y="163" width="61.5" height="4" fill="#dddddd"/>
<rect x="900.9" y="144.4" width="3.7" height="12.4" rx="1.5" fill="#d8d8d8"/>
<rect x="940.6" y="144.4" width="3.7" height="12.4" rx="1.5" fill="#d8d8d8"/>
<g fill="#d2d2d2">
<rect x="900.2" y="184.2" width="4" height="4"/><rect x="900.2" y="194" width="4" height="4"/><rect x="910.5" y="184.2" width="4" height="4"/><rect x="910.5" y="194" width="4" height="4"/><rect x="920.8" y="184.2" width="4" height="4"/><rect x="920.8" y="194" width="4" height="4"/><rect x="931.2" y="184.2" width="4" height="4"/><rect x="931.2" y="194" width="4" height="4"/><rect x="941.5" y="184.2" width="4" height="4"/><rect x="941.5" y="194" width="4" height="4"/>
</g>
</g>
<!-- people icons -->
<g fill="#0d4778">
<circle cx="649.3" cy="659.5" r="7.2"/>
<path d="M640,668.5 L658.5,668.5 Q662,668.5 663,672 L668.8,697 Q669,701 665.5,700.5 Q663.5,700.3 663,698 L658,678 L658,731.3 L651.3,731.3 L651.3,700.5 L647.2,700.5 L647.2,731.3 L640.4,731.3 L640.4,678 L635.6,698 Q635,700.3 633,700.5 Q629.6,701 630,697 L635.6,672 Q636.5,668.5 640,668.5Z"/>
<circle cx="614.2" cy="787.2" r="8"/>
<path d="M597.9,813 L597.9,806 Q598.2,799 606,797.5 L622,797.5 Q630,799 630.4,806 L630.4,813 Z"/>
</g>
<g fill="#b8508f">
<circle cx="854.4" cy="660.5" r="7.2"/>
<path d="M846,670.5 L862.8,670.5 Q866,670.5 867,674 L875,699 Q875.5,702.5 872.5,702.8 Q870.5,703 869.8,700.8 L863,680 L868.5,710 L863.6,710 L863.6,735.3 L856.2,735.3 L856.2,710 L852.4,710 L852.4,735.3 L845.4,735.3 L845.4,710 L840.8,710 L846,680 L839,700.8 Q838.3,703 836.3,702.8 Q833.3,702.5 834,699 L841.8,674 Q842.8,670.5 846,670.5Z"/>
<circle cx="656.2" cy="787.2" r="8"/>
<path d="M639.8,813 L639.8,806 Q640.1,799 648,797.5 L664,797.5 Q672.1,799 672.5,806 L672.5,813 Z"/>
</g>
</svg>
<div class="pill" style="top:125px"></div>
<div class="pill" style="top:184px"></div>
<div id="tbody"></div>
<div id="thead"></div>
<div class="row" style="top:188.70px"><div class="c1"></div><div class="c2"></div><span class="nm" style="left:5.33px;top:3.13px;transform:scaleX(0.9233)">Caracas</span> <span class="vl" style="left:355.00px;top:3.13px;transform:scaleX(0.9821)">187</span></div>
<div class="row" style="top:217.00px"><div class="c1"></div><div class="c2"></div><span class="nm" style="left:5.61px;top:3.13px;transform:scaleX(1.0259)">Miranda</span> <span class="vl" style="left:354.96px;top:3.13px;transform:scaleX(0.9849)">180</span></div>
<div class="row" style="top:245.30px"><div class="c1"></div><div class="c2"></div><span class="nm" style="left:5.50px;top:3.13px;transform:scaleX(1.0000)">Anzoátegui</span> <span class="vl" style="left:355.09px;top:3.13px;transform:scaleX(1.0067)">115</span></div>
<div class="row" style="top:273.60px"><div class="c1"></div><div class="c2"></div><span class="nm" style="left:5.61px;top:3.13px;transform:scaleX(0.8436)">La</span> <span class="nm" style="left:30.40px;top:3.13px;transform:scaleX(0.9672)">Guaira</span> <span class="vl" style="left:355.01px;top:3.13px;transform:scaleX(1.0113)">113</span></div>
<div class="row" style="top:301.90px"><div class="c1"></div><div class="c2"></div><span class="nm" style="left:5.42px;top:3.13px;transform:scaleX(0.9952)">Bolívar</span> <span class="vl" style="left:354.92px;top:3.13px;transform:scaleX(1.0167)">110</span></div>
<div class="row" style="top:330.20px"><div class="c1"></div><div class="c2"></div><span class="nm" style="left:5.50px;top:3.13px;transform:scaleX(0.9586)">Aragua</span> <span class="vl" style="left:360.34px;top:3.13px;transform:scaleX(1.0013)">89</span></div>
<div class="row" style="top:358.50px"><div class="c1"></div><div class="c2"></div><span class="nm" style="left:5.41px;top:3.13px;transform:scaleX(0.9648)">Falcón</span> <span class="vl" style="left:360.27px;top:3.13px;transform:scaleX(0.9993)">72</span></div>
<div class="row" style="top:386.80px"><div class="c1"></div><div class="c2"></div><span class="nm" style="left:5.49px;top:3.13px;transform:scaleX(0.9163)">Lara</span> <span class="vl" style="left:360.33px;top:3.13px;transform:scaleX(0.9963)">52</span></div>
<div class="row" style="top:415.10px"><div class="c1"></div><div class="c2"></div><span class="nm" style="left:5.47px;top:3.13px;transform:scaleX(0.9797)">Portuguesa</span> <span class="vl" style="left:360.55px;top:3.13px;transform:scaleX(0.9861)">39</span></div>
<div class="row" style="top:443.40px"><div class="c1"></div><div class="c2"></div><span class="nm" style="left:4.77px;top:3.13px;transform:scaleX(0.9642)">Yaracuy</span> <span class="vl" style="left:360.90px;top:3.13px;transform:scaleX(0.9553)">35</span></div>
<div class="row" style="top:471.70px"><div class="c1"></div><div class="c2"></div><span class="nm" style="left:5.46px;top:3.13px;transform:scaleX(0.9712)">Barinas</span> <span class="vl" style="left:360.35px;top:3.13px;transform:scaleX(0.9998)">29</span></div>
<div class="row" style="top:500.00px"><div class="c1"></div><div class="c2"></div><span class="nm" style="left:5.66px;top:3.13px;transform:scaleX(0.9944)">Monagas</span> <span class="vl" style="left:360.37px;top:3.13px;transform:scaleX(0.9978)">28</span></div>
<div class="row" style="top:528.30px"><div class="c1"></div><div class="c2"></div><span class="nm" style="left:5.37px;top:3.13px;transform:scaleX(0.9989)">Delta</span> <span class="nm" style="left:58.47px;top:3.13px;transform:scaleX(1.0129)">Amacuro</span> <span class="vl" style="left:360.70px;top:3.13px;transform:scaleX(0.9689)">25</span></div>
<div class="row" style="top:556.60px"><div class="c1"></div><div class="c2"></div><span class="nm" style="left:5.52px;top:3.13px;transform:scaleX(0.9597)">Nueva</span> <span class="nm" style="left:67.91px;top:3.13px;transform:scaleX(0.9596)">Esparta</span> <span class="vl" style="left:360.34px;top:3.13px;transform:scaleX(1.0007)">20</span></div>
<div class="row" style="top:584.90px"><div class="c1"></div><div class="c2"></div><span class="nm" style="left:5.50px;top:3.13px;transform:scaleX(1.0517)">Trujillo</span> <span class="vl" style="left:360.53px;top:3.13px;transform:scaleX(0.9558)">14</span></div>
<div class="row" style="top:613.20px"><div class="c1"></div><div class="c2"></div><span class="nm" style="left:5.26px;top:3.13px;transform:scaleX(0.9913)">Carabobo</span> <span class="vl" style="left:360.60px;top:3.13px;transform:scaleX(0.9653)">10</span></div>
<div class="row" style="top:641.50px"><div class="c1"></div><div class="c2"></div><span class="nm" style="left:5.50px;top:3.13px;transform:scaleX(0.9377)">Táchira</span> <span class="vl" style="left:365.76px;top:3.13px;transform:scaleX(1.0596)">6</span></div>
<div class="row" style="top:669.80px"><div class="c1"></div><div class="c2"></div><span class="nm" style="left:5.50px;top:3.13px;transform:scaleX(1.0186)">Apure</span> <span class="vl" style="left:366.33px;top:3.13px;transform:scaleX(0.9079)">5</span></div>
<div class="row" style="top:698.10px"><div class="c1"></div><div class="c2"></div><span class="nm" style="left:5.46px;top:3.13px;transform:scaleX(0.9433)">Sucre</span> <span class="vl" style="left:366.33px;top:3.13px;transform:scaleX(0.9079)">5</span></div>
<div class="row" style="top:726.40px"><div class="c1"></div><div class="c2"></div><span class="nm" style="left:5.37px;top:3.13px;transform:scaleX(0.9934)">Guárico</span> <span class="vl" style="left:366.33px;top:3.13px;transform:scaleX(0.9079)">5</span></div>
<div class="row" style="top:754.70px"><div class="c1"></div><div class="c2"></div><span class="nm" style="left:5.51px;top:3.13px;transform:scaleX(0.9544)">Zulia</span> <span class="vl" style="left:366.20px;top:3.13px;transform:scaleX(0.9887)">4</span></div>
<div class="row" style="top:783.00px"><div class="c1"></div><div class="c2"></div><span class="nm" style="left:5.50px;top:3.13px;transform:scaleX(0.9684)">Amazonas</span> <span class="vl" style="left:366.05px;top:3.13px;transform:scaleX(1.0265)">3</span></div>
<div class="row" style="top:811.30px"><div class="c1"></div><div class="c2"></div><span class="nm" style="left:5.60px;top:3.13px;transform:scaleX(1.0317)">Mérida</span> <span class="vl" style="left:365.83px;top:3.13px;transform:scaleX(1.0553)">2</span></div>
<div class="tx" id="btxt" style="font-size:31.60px;line-height:31.60px;font-weight:700;font-style:normal;color:#ffffff"><span class="w" style="left:172.94px;top:29.74px;transform:scaleX(1.0290)">ESTADÍSTICAS</span> <span class="w" style="left:423.01px;top:29.74px;transform:scaleX(0.9432)">DEL</span> <span class="w" style="left:498.52px;top:29.74px;transform:scaleX(0.9841)">CORONAVIRUS</span> <span class="w" style="left:744.75px;top:29.74px;transform:scaleX(1.0250)">EN</span> <span class="w" style="left:799.60px;top:29.74px;transform:scaleX(1.0231)">VENEZUELA</span></div>
<div class="tx" id="t1" style="font-size:35.20px;line-height:35.20px;font-weight:700;font-style:normal;color:#0f6fc0"><span class="w" style="left:463.03px;top:83.68px;transform:scaleX(0.8675)">Casos</span> <span class="w" style="left:563.18px;top:83.68px;transform:scaleX(0.9550)">comunitarios</span></div>
<div class="tx" id="t2" style="font-size:35.20px;line-height:35.20px;font-weight:700;font-style:normal;color:#0f6fc0"><span class="w" style="left:476.03px;top:129.98px;transform:scaleX(0.9693)">del</span> <span class="w" style="left:534.10px;top:129.98px;transform:scaleX(0.9089)">día</span> <span class="w" style="left:591.37px;top:129.98px;transform:scaleX(0.9934)">26.10.2021</span></div>
<div class="tx" id="sem" style="font-size:25.60px;line-height:25.60px;font-weight:700;font-style:normal;color:#000000"><span class="w" style="left:997.72px;top:136.04px;transform:scaleX(0.9593)">Semana</span> <span class="w" style="left:1100.13px;top:136.04px;transform:scaleX(0.9918)">85</span></div>
<div class="tx" id="dia" style="font-size:25.60px;line-height:25.60px;font-weight:700;font-style:normal;color:#000000"><span class="w" style="left:997.66px;top:197.94px;transform:scaleX(0.9534)">Día</span> <span class="w" style="left:1043.42px;top:197.94px;transform:scaleX(1.0281)">590</span></div>
<div class="tx" id="hdr" style="font-size:22.50px;line-height:22.50px;font-weight:700;font-style:normal;color:#ffffff"><span class="w" style="left:61.14px;top:144.28px;transform:scaleX(0.8812)">CASOS</span> <span class="w" style="left:136.75px;top:144.28px;transform:scaleX(1.0281)">A</span> <span class="w" style="left:158.63px;top:144.28px;transform:scaleX(0.9288)">NIVEL</span> <span class="w" style="left:226.14px;top:144.28px;transform:scaleX(0.9476)">NACIONAL</span></div>
<div class="tx" id="hdrn" style="font-size:26.00px;line-height:26.00px;font-weight:700;font-style:normal;color:#ffffff"><span class="w" style="left:352.67px;top:141.20px;transform:scaleX(1.0328)">(1.148)</span></div>
<div class="tx" id="n539" style="font-size:40.00px;line-height:40.00px;font-weight:700;font-style:normal;color:#2e5597"><span class="w" style="left:686.47px;top:660.20px;transform:scaleX(1.0319)">539</span></div>
<div class="tx" id="n609" style="font-size:40.00px;line-height:40.00px;font-weight:700;font-style:normal;color:#ee3a96"><span class="w" style="left:890.18px;top:660.40px;transform:scaleX(1.0165)">609</span></div>
<div class="tx" id="hom" style="font-size:22.40px;line-height:22.40px;font-weight:400;font-style:normal;color:#3a5a9b"><span class="w" style="left:673.27px;top:711.06px;transform:scaleX(1.0459)">Hombres</span></div>
<div class="tx" id="muj" style="font-size:22.40px;line-height:22.40px;font-weight:400;font-style:normal;color:#e2559c"><span class="w" style="left:880.90px;top:711.06px;transform:scaleX(1.0835)">Mujeres</span></div>
<div class="tx" id="n34" style="font-size:40.00px;line-height:40.00px;font-weight:700;font-style:normal;color:#3c3c3c"><span class="w" style="left:691.01px;top:782.30px;transform:scaleX(0.9981)">34</span></div>
<div class="tx" id="entre" style="font-size:22.60px;line-height:22.60px;font-weight:400;font-style:normal;color:#111111"><span class="w" style="left:771.56px;top:764.99px;transform:scaleX(1.0428)">Entre</span> <span class="w" style="left:833.63px;top:764.99px;transform:scaleX(1.0407)">ellos</span></div>
<div class="tx" id="men" style="font-size:25.00px;line-height:25.00px;font-weight:400;font-style:normal;color:#555555"><span class="w" style="left:746.82px;top:794.75px;transform:scaleX(1.0910)">Menores</span> <span class="w" style="left:859.32px;top:794.75px;transform:scaleX(1.0733)">de</span> <span class="w" style="left:895.80px;top:794.75px;transform:scaleX(1.0553)">edad</span></div>
<div class="tx" id="fecha" style="font-size:18.40px;line-height:18.40px;font-weight:700;font-style:italic;color:#111111"><span class="w" style="left:984.80px;top:85.66px;transform:scaleX(1.0321)">FECHA</span> <span class="w" style="left:1054.69px;top:85.66px;transform:scaleX(1.0364)">26/10/2021</span></div>
</div></div>
</body>
</html>
